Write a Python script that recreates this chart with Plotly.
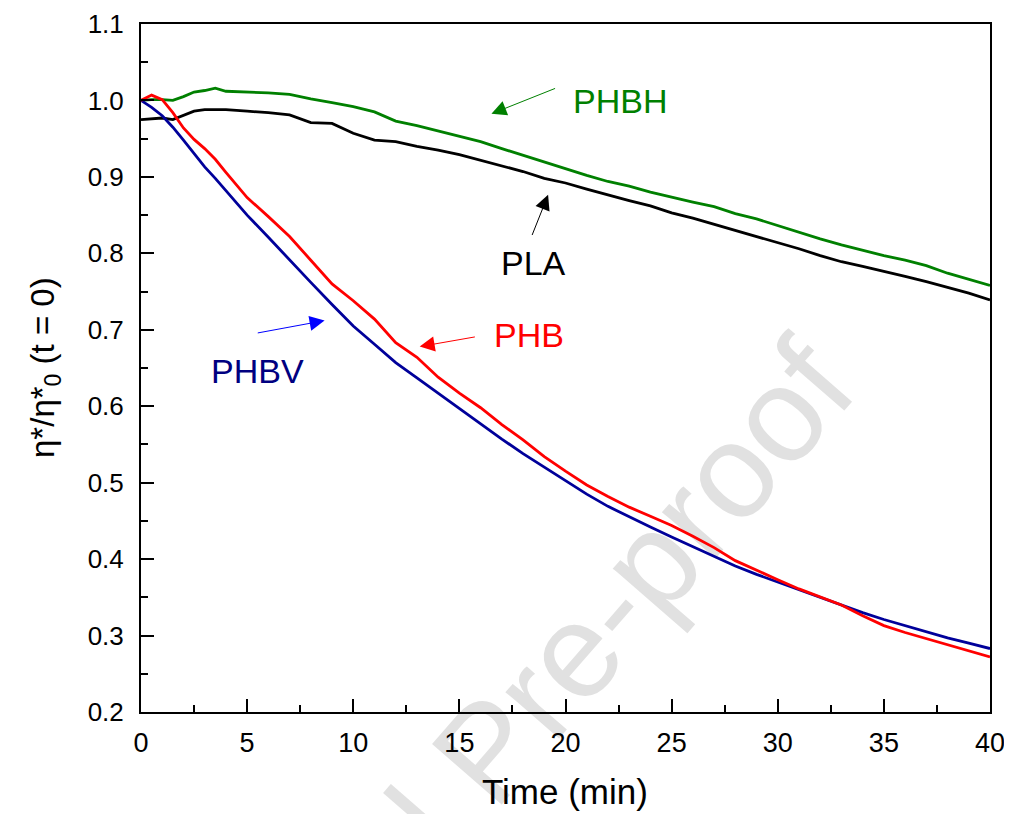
import plotly.graph_objects as go

# ---- data ----
time_min = [0, 0.5, 1, 1.5, 2, 2.5, 3, 3.5, 4, 5, 6, 7, 8, 9, 10, 11, 12, 13, 14, 15,
            16, 17, 18, 19, 20, 21, 22, 23, 24, 25, 26, 27, 28, 29, 30, 31, 32, 33,
            34, 35, 36, 37, 38, 39, 40]

phbh = [1.000, 1.001, 1.001, 1.000, 1.005, 1.011, 1.013, 1.016, 1.012, 1.011, 1.010,
        1.008, 1.002, 0.997, 0.992, 0.985, 0.973, 0.967, 0.960, 0.953, 0.946, 0.937,
        0.928, 0.919, 0.910, 0.902, 0.894, 0.888, 0.880, 0.873, 0.867, 0.861, 0.852,
        0.845, 0.836, 0.827, 0.819, 0.811, 0.804, 0.797, 0.791, 0.784, 0.774, 0.766,
        0.758]

pla = [0.975, 0.976, 0.977, 0.975, 0.981, 0.986, 0.988, 0.988, 0.988, 0.986, 0.984,
       0.981, 0.971, 0.970, 0.957, 0.948, 0.946, 0.940, 0.935, 0.929, 0.922, 0.915,
       0.907, 0.898, 0.892, 0.884, 0.876, 0.869, 0.862, 0.853, 0.846, 0.838, 0.830,
       0.822, 0.814, 0.806, 0.797, 0.789, 0.783, 0.777, 0.770, 0.763, 0.756, 0.748,
       0.739]

phb = [1.000, 1.007, 1.001, 0.984, 0.964, 0.949, 0.937, 0.923, 0.906, 0.873, 0.848,
       0.822, 0.791, 0.760, 0.738, 0.714, 0.683, 0.664, 0.638, 0.617, 0.598, 0.576,
       0.556, 0.534, 0.515, 0.497, 0.482, 0.468, 0.456, 0.444, 0.430, 0.415, 0.398,
       0.385, 0.373, 0.361, 0.350, 0.340, 0.326, 0.313, 0.304, 0.296, 0.288, 0.280,
       0.272]

phbv = [1.000, 0.991, 0.980, 0.965, 0.948, 0.930, 0.913, 0.898, 0.882, 0.850, 0.821,
        0.791, 0.762, 0.733, 0.705, 0.681, 0.657, 0.637, 0.617, 0.597, 0.576, 0.557,
        0.538, 0.520, 0.503, 0.485, 0.469, 0.455, 0.442, 0.429, 0.416, 0.404, 0.391,
        0.380, 0.370, 0.360, 0.349, 0.339, 0.330, 0.321, 0.313, 0.305, 0.297, 0.290,
        0.283]

x_ticks = [0, 5, 10, 15, 20, 25, 30, 35, 40]
y_ticks = [0.2, 0.3, 0.4, 0.5, 0.6, 0.7, 0.8, 0.9, 1.0, 1.1]

# label positions (data coords) and arrows: (text, label_x, label_y, tip_x, tip_y, tail_x, tail_y)
labels = [
    ("PHBH", 22.56, 0.9996, 16.51, 0.9825, 19.58, 1.0165),
    ("PLA", 18.50, 0.7873, 19.18, 0.8765, 18.40, 0.822),
    ("PHB", 18.29, 0.6932, 13.13, 0.678, 15.80, 0.691),
    ("PHBV", 5.49, 0.646, 8.65, 0.712, 5.43, 0.6955),
]
label_colors = ["#008000", "#000000", "#FF0000", "#000080"]
arrow_colors = ["#008000", "#000000", "#FF0000", "#0000FF"]

FONT = "Liberation Sans, Arial, sans-serif"

fig = go.Figure()
series = [("PLA", pla, "#000000"), ("PHBH", phbh, "#008000"),
          ("PHBV", phbv, "#00009A"), ("PHB", phb, "#FF0000")]
for name, vals, col in series:
    fig.add_trace(go.Scatter(x=time_min, y=vals, mode="lines", name=name,
                             line=dict(color=col, width=2.8), showlegend=False))

annotations = []
for (txt, lx, ly, tx, ty, ax, ay), lc, acol in zip(labels, label_colors, arrow_colors):
    annotations.append(dict(x=lx, y=ly, xref="x", yref="y", text=txt, showarrow=False,
                            font=dict(family=FONT, size=34, color=lc),
                            xanchor="center", yanchor="middle"))
    annotations.append(dict(x=tx, y=ty, xref="x", yref="y", ax=ax, ay=ay,
                            axref="x", ayref="y", text="", showarrow=True,
                            arrowhead=2, arrowsize=3, arrowwidth=1, arrowcolor=acol,
                            standoff=0, startstandoff=0))

# axis titles
annotations.append(dict(x=0.4991, y=-0.1154, xref="paper", yref="paper",
                        text="Time (min)", showarrow=False,
                        font=dict(family=FONT, size=35, color="black"),
                        xanchor="center", yanchor="middle"))
annotations.append(dict(x=-0.1137, y=0.5007, xref="paper", yref="paper",
                        text="η*/η*<sub>0</sub> (t = 0)", showarrow=False, textangle=-90,
                        font=dict(family=FONT, size=33, color="black"),
                        xanchor="center", yanchor="middle"))

# watermark (drawn beneath the curves)
wx, wy = 0.395, -0.045
shapes = [dict(type="rect", xref="paper", yref="paper",
               x0=wx - 0.001, x1=wx + 0.001, y0=wy - 0.001, y1=wy + 0.001,
               line=dict(width=0), layer="below",
               label=dict(text="Journal Pre-proof", textangle=-49,
                          textposition="middle center",
                          font=dict(family=FONT, size=134, color="#E1E1E1")))]

axis_common = dict(showgrid=False, zeroline=False, showline=True, mirror=True,
                   linecolor="black", linewidth=2, ticks="inside", ticklen=13,
                   tickwidth=2, tickcolor="black", automargin=False)

# the page body has an 8px default margin, so the figure is offset by 8px
fig.update_layout(
    width=1004, height=806,
    margin=dict(l=133, r=22, t=16, b=102, autoexpand=False),
    paper_bgcolor="white", plot_bgcolor="rgba(0,0,0,0)",
    font=dict(family=FONT, color="black"),
    annotations=annotations,
    shapes=shapes,
    xaxis=dict(range=[0, 40], tickvals=x_ticks, ticktext=[str(v) for v in x_ticks],
               tickfont=dict(family=FONT, size=27), ticklabelstandoff=6,
               minor=dict(ticks="inside", ticklen=7, tickwidth=2, tickcolor="black",
                          dtick=2.5, showgrid=False),
               **axis_common),
    yaxis=dict(range=[0.2, 1.1], tickvals=y_ticks, ticktext=[f"{v:.1f}" for v in y_ticks],
               tickfont=dict(family=FONT, size=26), ticklabelstandoff=10,
               minor=dict(ticks="inside", ticklen=7, tickwidth=2, tickcolor="black",
                          dtick=0.05, showgrid=False),
               **axis_common),
)

fig.write_html("out.html")
